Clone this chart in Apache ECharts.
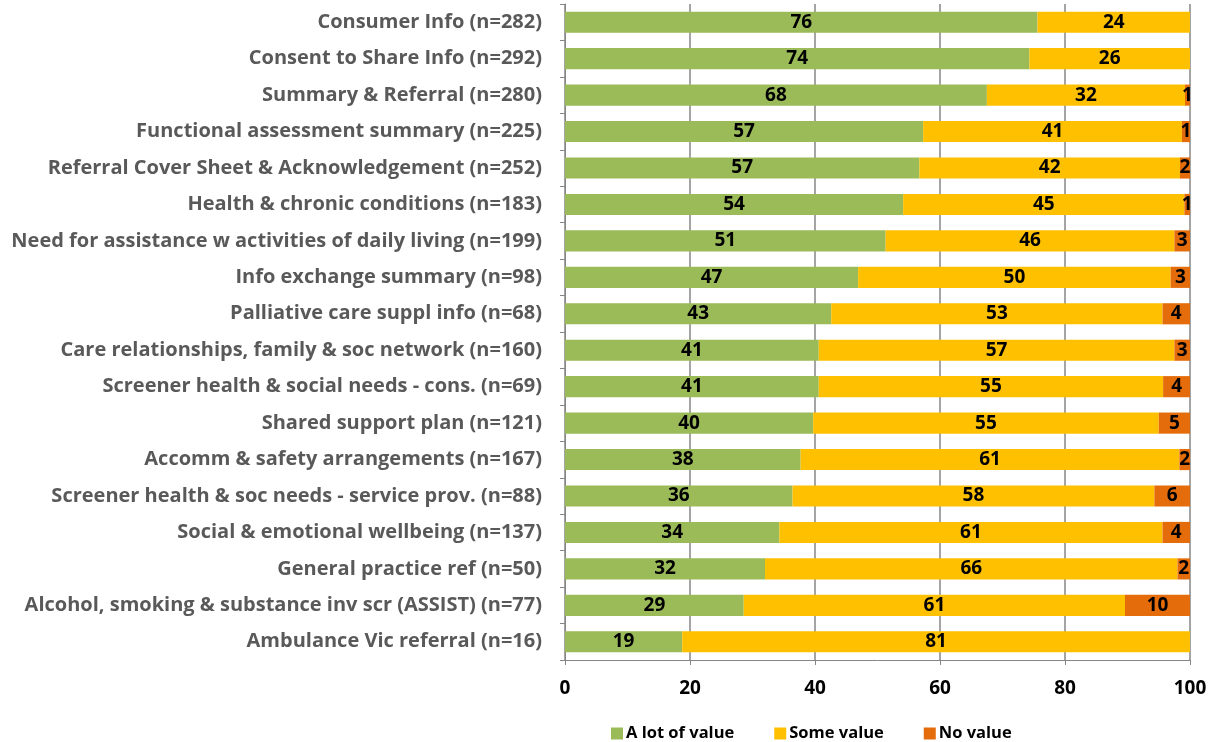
<!DOCTYPE html>
<html>
<head>
<meta charset="utf-8">
<script src="https://cdn.jsdelivr.net/npm/echarts@6/dist/echarts.min.js"></script>
<style>
  html, body { margin: 0; padding: 0; background: #fff; }
  #chart { width: 1218px; height: 742px; }
</style>
</head>
<body>
<div id="chart"></div>
<script>
// categories, top to bottom
const categories = [
  'Consumer Info (n=282)',
  'Consent to Share Info (n=292)',
  'Summary & Referral (n=280)',
  'Functional assessment summary (n=225)',
  'Referral Cover Sheet & Acknowledgement (n=252)',
  'Health & chronic conditions (n=183)',
  'Need for assistance w activities of daily living (n=199)',
  'Info exchange summary (n=98)',
  'Palliative care suppl info (n=68)',
  'Care relationships, family & soc network (n=160)',
  'Screener health & social needs - cons. (n=69)',
  'Shared support plan (n=121)',
  'Accomm & safety arrangements (n=167)',
  'Screener health & soc needs - service prov. (n=88)',
  'Social & emotional wellbeing (n=137)',
  'General practice ref (n=50)',
  'Alcohol, smoking & substance inv scr (ASSIST) (n=77)',
  'Ambulance Vic referral (n=16)'
]
// percentages (labels show rounded values)
const aLotOfValue = [75.6, 74.3, 67.5, 57.3, 56.7, 54.1, 51.3, 46.9, 42.6, 40.6, 40.6, 39.7, 37.7, 36.4, 34.3, 32, 28.6, 18.75]
const someValue = [24.4, 25.7, 31.7, 41.4, 41.7, 45.0, 46.2, 50.0, 53.0, 56.9, 55.1, 55.3, 60.6, 57.9, 61.3, 66, 61.0, 81.25]
const noValue = [0, 0, 0.8, 1.3, 1.6, 0.9, 2.5, 3.1, 4.4, 2.5, 4.3, 5.0, 1.7, 5.7, 4.4, 2, 10.4, 0]
const seriesNames = ['A lot of value', 'Some value', 'No value']
const colors = ['#9BBB59', '#FFC000', '#E46C0A']

const font = '"Open Sans", sans-serif'
const chart = echarts.init(document.getElementById('chart'))

const makeSeries = (name, data, color) => ({
  name,
  type: 'bar',
  stack: 'total',
  barCategoryGap: '42%',
  data,
  itemStyle: { color },
  label: {
    show: true,
    position: 'inside',
    color: '#000',
    fontFamily: font,
    fontWeight: 'bold',
    fontSize: 19,
    formatter: p => (p.value > 0 ? Math.round(p.value) : '')
  }
})

chart.setOption({
  animation: false,
  textStyle: { fontFamily: font },
  grid: { left: 565, right: 28, top: 4, bottom: 82, containLabel: false },
  legend: {
    top: 720,
    left: 606,
    itemWidth: 12,
    itemHeight: 12,
    itemGap: 40,
    icon: 'rect',
    textStyle: { fontFamily: font, fontWeight: 'bold', fontSize: 16.5, color: '#000', padding: [0, 0, 0, -2] },
    data: seriesNames
  },
  xAxis: {
    type: 'value',
    min: 0,
    max: 100,
    interval: 20,
    axisLine: { show: true, lineStyle: { color: '#868686', width: 1 } },
    axisTick: { show: true, length: 5, lineStyle: { color: '#868686' } },
    splitLine: { show: true, lineStyle: { color: '#868686', width: 1.5 } },
    axisLabel: { margin: 19, color: '#000', fontFamily: font, fontWeight: 'bold', fontSize: 19 }
  },
  yAxis: {
    type: 'category',
    inverse: true,
    data: categories,
    axisLine: { show: true, lineStyle: { color: '#868686' } },
    axisTick: { show: true, length: 5, lineStyle: { color: '#868686' } },
    axisLabel: { margin: 23, color: '#595959', fontFamily: font, fontWeight: 'bold', fontSize: 20 }
  },
  series: [
    makeSeries(seriesNames[0], aLotOfValue, colors[0]),
    makeSeries(seriesNames[1], someValue, colors[1]),
    makeSeries(seriesNames[2], noValue, colors[2])
  ]
})
</script>
</body>
</html>
